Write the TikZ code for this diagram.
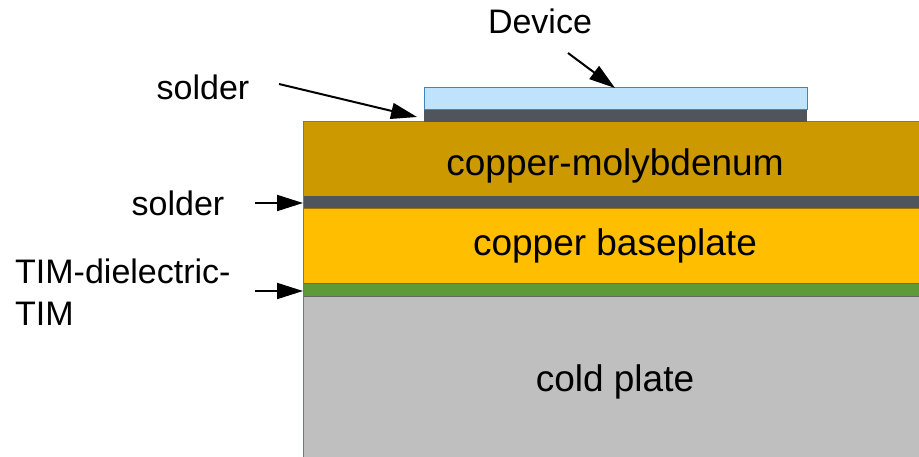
\documentclass[tikz,border=0pt]{standalone}
\usepackage{fontspec}
\setmainfont{Liberation Sans}
\usetikzlibrary{arrows.meta}
\definecolor{cumo}{HTML}{CC9900}
\definecolor{solderc}{HTML}{50555D}
\definecolor{cubase}{HTML}{FFBF00}
\definecolor{timc}{HTML}{5E9A35}
\definecolor{coldc}{HTML}{BFBFBF}
\definecolor{devc}{HTML}{BFE3FD}
\definecolor{edgec}{HTML}{3A87C4}
\tikzset{
  lbl/.style={inner sep=0pt, anchor=base, font=\fontsize{34}{43}\selectfont},
  layertxt/.style={inner sep=0pt, anchor=base, font=\fontsize{37}{44}\selectfont},
  pointer/.style={draw=black, line width=2pt, -{Triangle[length=26pt,width=16pt]}},
}
\begin{document}
\begin{tikzpicture}[x=1pt,y=-1pt]
\useasboundingbox (0,0) rectangle (919,457);
% layers
\fill[coldc] (303,297) rectangle (919,457);
\fill[timc] (303,283) rectangle (919,297);
\draw[gray!80!black, line width=0.6pt] (303,283.5) -- (919,283.5);
\draw[gray!80!black, line width=0.6pt] (303,296.7) -- (919,296.7);
\fill[cubase] (303,209) rectangle (919,283);
\fill[solderc] (303,196) rectangle (919,209);
\draw[cubase!60!black, line width=0.6pt] (303,208.7) -- (919,208.7);
\fill[cumo] (303,122) rectangle (919,196);
\draw[edgec, line width=1pt] (919,122) -- (303,122) -- (303,457);
% device
\fill[solderc] (424,110) rectangle (807,122);
\filldraw[fill=devc, draw=edgec, line width=1pt] (424,110) rectangle (807,88);
% texts
\node[layertxt] (cm) at (615,176) {copper-molybdenum};
\node[layertxt] (cb) at (615,256) {copper baseplate};
\node[layertxt] (cp) at (615,391) {cold plate};
\node[lbl] (dev) at (540,34) {Device};
\node[lbl] (s1) at (203,100) {solder};
\node[lbl] (s2) at (178,216) {solder};
\node[lbl, anchor=base west, align=left] (tim) at (15,326) {TIM-dielectric-\\TIM};
% arrows
\coordinate (a1s) at (279,84);
\coordinate (a1e) at (417,117);
\coordinate (a2s) at (568,53);
\coordinate (a2e) at (615,88);
\coordinate (a3s) at (255,203);
\coordinate (a3e) at (303,203);
\coordinate (a4s) at (255,291);
\coordinate (a4e) at (303,291);
\draw[pointer] (a1s) -- (a1e);
\draw[pointer] (a2s) -- (a2e);
\draw[pointer] (a3s) -- (a3e);
\draw[pointer] (a4s) -- (a4e);
\end{tikzpicture}
\end{document}
